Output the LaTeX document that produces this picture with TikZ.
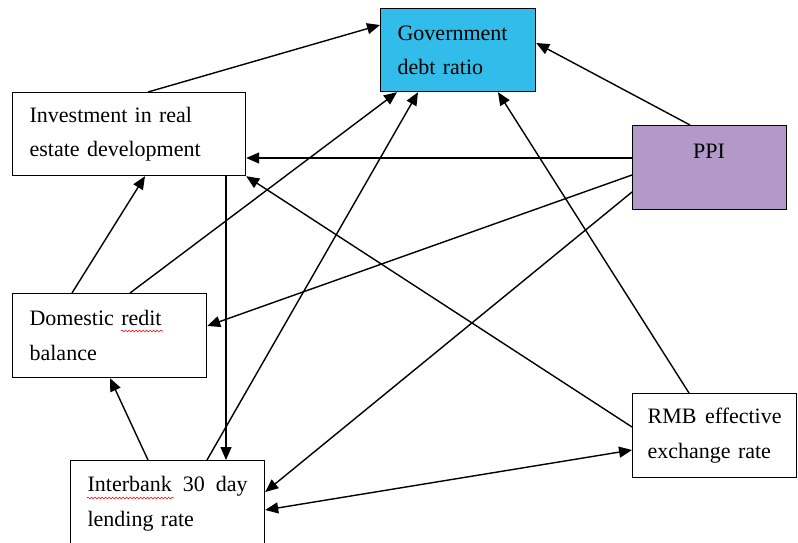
\documentclass[tikz,border=0pt]{standalone}
\usepackage{fontspec}
\setmainfont{Liberation Serif}
\usetikzlibrary{arrows.meta,decorations.pathmorphing}
\definecolor{govblue}{RGB}{49,188,234}
\definecolor{ppipurple}{RGB}{178,153,199}
\begin{document}
\begin{tikzpicture}[x=1pt,y=-1pt,
  box/.style={draw=black,line width=1.2pt,anchor=north west,inner ysep=0pt,
    align=left,font=\fontsize{22}{34.5}\selectfont},
  conn/.style={line width=1.4pt,-{Triangle[length=13pt,width=11pt]}},
  bidir/.style={line width=1.4pt,{Triangle[length=13pt,width=11pt]}-{Triangle[length=13pt,width=11pt]}},
  squig/.style={red,line width=0.6pt,decorate,decoration={snake,amplitude=0.9pt,segment length=3.5pt}}]
\useasboundingbox (0,0) rectangle (798,542);
\fill[white] (0,0) rectangle (798,542);

\node[box,fill=govblue,minimum width=155pt,minimum height=83pt,inner xsep=17pt,text width=121pt] (gov) at (380,8) {Government\\debt ratio};
\node[box,minimum width=233pt,minimum height=83pt,inner xsep=17pt,text width=199pt] (inv) at (12,92) {Investment in real\\estate development};
\node[box,fill=ppipurple,minimum width=154pt,minimum height=84pt] (ppi) at (632,125) {};
\node[font=\fontsize{22}{34.5}\selectfont,anchor=base] (ppitext) at (709,158) {PPI};
\node[box,minimum width=194pt,minimum height=84pt,inner xsep=17pt,text width=160pt] (dom) at (12,293) {Domestic redit\\balance};
\node[box,minimum width=194pt,minimum height=86pt,inner xsep=17pt,text width=160pt] (ib) at (70,460) {Interbank\hfill 30\hfill day\\lending rate};
\node[box,minimum width=164pt,minimum height=84pt,inner xsep=15pt,text width=134pt] (rmb) at (632,393) {RMB\hfill effective\\exchange rate};

\draw[squig] ([xshift=109pt,yshift=-38pt]dom.north west) -- ([xshift=151pt,yshift=-38pt]dom.north west);
\draw[squig] ([xshift=17pt,yshift=-38pt]ib.north west) -- ([xshift=104pt,yshift=-38pt]ib.north west);

\draw[conn] ([xshift=136pt]inv.north west) -- ([yshift=-17pt]gov.north west);
\draw[conn] ([xshift=58pt]ppi.north west) -- ([yshift=-35pt]gov.north east);
\draw[conn] ([yshift=-33pt]ppi.north west) -- ([yshift=-66pt]inv.north east);
\draw[conn] ([yshift=-50pt]ppi.north west) -- ([yshift=-33pt]dom.north east);
\draw[conn] ([yshift=-67pt]ppi.north west) -- ([yshift=-32pt]ib.north east);
\draw[conn] ([xshift=214pt]inv.south west) -- ([xshift=156pt]ib.north west);
\draw[conn] ([xshift=60pt]dom.north west) -- ([xshift=133pt]inv.south west);
\draw[conn] ([xshift=118pt]dom.north west) -- ([xshift=17pt]gov.south west);
\draw[conn] ([xshift=137pt]ib.north west) -- ([xshift=38pt]gov.south west);
\draw[conn] ([xshift=78pt]ib.north west) -- ([xshift=98pt]dom.south west);
\draw[conn] ([yshift=-34pt]rmb.north west) -- (inv.south east);
\draw[conn] ([xshift=57pt]rmb.north west) -- ([xshift=118pt]gov.south west);
\draw[bidir] ([yshift=-50pt]ib.north east) -- ([yshift=-57pt]rmb.north west);
\end{tikzpicture}
\end{document}
